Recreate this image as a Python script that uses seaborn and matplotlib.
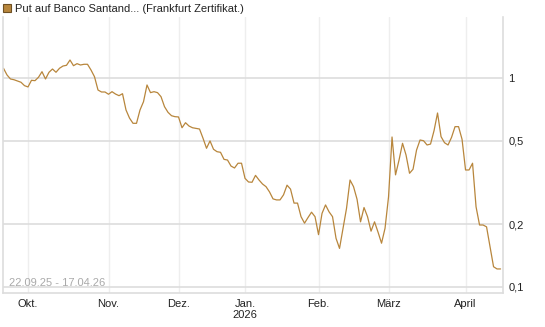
import numpy as np
import pandas as pd
import seaborn as sns
import matplotlib.pyplot as plt
from matplotlib.patches import Rectangle

# trading days at Frankfurt, 22.09.25 - 17.04.26
holidays = ['2025-12-24', '2025-12-25', '2025-12-26', '2025-12-31',
            '2026-01-01', '2026-04-03', '2026-04-06']
dates = pd.bdate_range('2025-09-22', '2026-04-17', freq='C', holidays=holidays)

prices = [
    1.113, 1.034, 0.989, 0.981, 0.968, 0.954, 0.919, 0.906, 0.975, 0.971,
    1.008, 1.072, 0.989, 1.065, 1.104, 1.065, 1.113, 1.141, 1.150, 1.219,
    1.145, 1.171, 1.154, 1.163, 1.163, 1.092, 1.014, 0.876, 0.857, 0.857,
    0.836, 0.860, 0.838, 0.823, 0.841, 0.703, 0.643, 0.607, 0.607, 0.703,
    0.770, 0.926, 0.851, 0.860, 0.851, 0.814, 0.729, 0.685, 0.660, 0.653,
    0.651, 0.578, 0.611, 0.589, 0.578, 0.574, 0.570, 0.515, 0.461, 0.500,
    0.456, 0.444, 0.441, 0.408, 0.405, 0.379, 0.371, 0.391, 0.391, 0.331,
    0.318, 0.317, 0.342, 0.325, 0.311, 0.302, 0.285, 0.264, 0.261, 0.261,
    0.276, 0.307, 0.294, 0.252, 0.252, 0.217, 0.202, 0.215, 0.228, 0.217,
    0.178, 0.225, 0.247, 0.229, 0.217, 0.171, 0.153, 0.191, 0.238, 0.325,
    0.302, 0.263, 0.205, 0.240, 0.217, 0.185, 0.205, 0.183, 0.162, 0.191,
    0.270, 0.522, 0.344, 0.405, 0.487, 0.428, 0.350, 0.366, 0.452, 0.505,
    0.501, 0.478, 0.483, 0.560, 0.680, 0.524, 0.490, 0.478, 0.520, 0.585,
    0.585, 0.509, 0.363, 0.363, 0.391, 0.242, 0.198, 0.198, 0.194, 0.156,
    0.125, 0.122, 0.122,
]

month_labels = ['Okt.', 'Nov.', 'Dez.', 'Jan.\n2026', 'Feb.', 'März', 'April']
y_ticks = [0.1, 0.2, 0.5, 1]
y_labels = ['0,1', '0,2', '0,5', '1']

line_color = '#b8863c'
grid_color = '#dddddd'

df = pd.DataFrame({'date': dates, 'price': prices})
df['i'] = np.arange(len(df))

sns.set_style('white')
plt.rcParams['font.family'] = ['Liberation Sans', 'DejaVu Sans']

fig = plt.figure(figsize=(5.45, 3.27), dpi=100)
ax = fig.add_axes([3 / 545, 1 - 293 / 327, 500 / 545, 276 / 327])

sns.lineplot(data=df, x='i', y='price', color=line_color, linewidth=0.9, ax=ax)

ax.set_yscale('log')
ax.set_ylim(0.0936, 1.958)
ax.set_xlim(-0.14, 142.7)

# first trading day of every month (skip September)
firsts = df.groupby(df['date'].dt.to_period('M'))['i'].first().iloc[1:]
ax.set_xticks(firsts.values)
ax.set_xticklabels(month_labels, fontsize=8, linespacing=1.2)
ax.set_yticks(y_ticks)
ax.set_yticklabels(y_labels, fontsize=8)
ax.minorticks_off()
ax.yaxis.tick_right()
ax.tick_params(axis='both', length=0, colors='#222222')
ax.tick_params(axis='y', pad=4)
ax.tick_params(axis='x', pad=4)
ax.set_xlabel('')
ax.set_ylabel('')

ax.grid(axis='y', color=grid_color, linewidth=1.2)
ax.grid(axis='x', color='#eeeeee', linewidth=1.0)
ax.set_axisbelow(True)

for side in ['left', 'bottom', 'right']:
    ax.spines[side].set_color(grid_color)
    ax.spines[side].set_linewidth(1.2)
ax.spines['top'].set_visible(False)

ax.text(0.012, 0.035, '22.09.25 - 17.04.26', transform=ax.transAxes,
        fontsize=8, color='#aaaaaa', va='center', ha='left')

# legend
fig.patches.append(Rectangle((3 / 545, 1 - 12 / 327), 8 / 545, 8 / 327,
                             transform=fig.transFigure, facecolor=line_color,
                             edgecolor='#6e5024', linewidth=0.8))
fig.text(15 / 545, 1 - 8.5 / 327,
         'Put auf Banco Santand... (Frankfurt Zertifikat.)',
         fontsize=8, color='#222222', va='center', ha='left')

fig.savefig('out.png', dpi=100)
